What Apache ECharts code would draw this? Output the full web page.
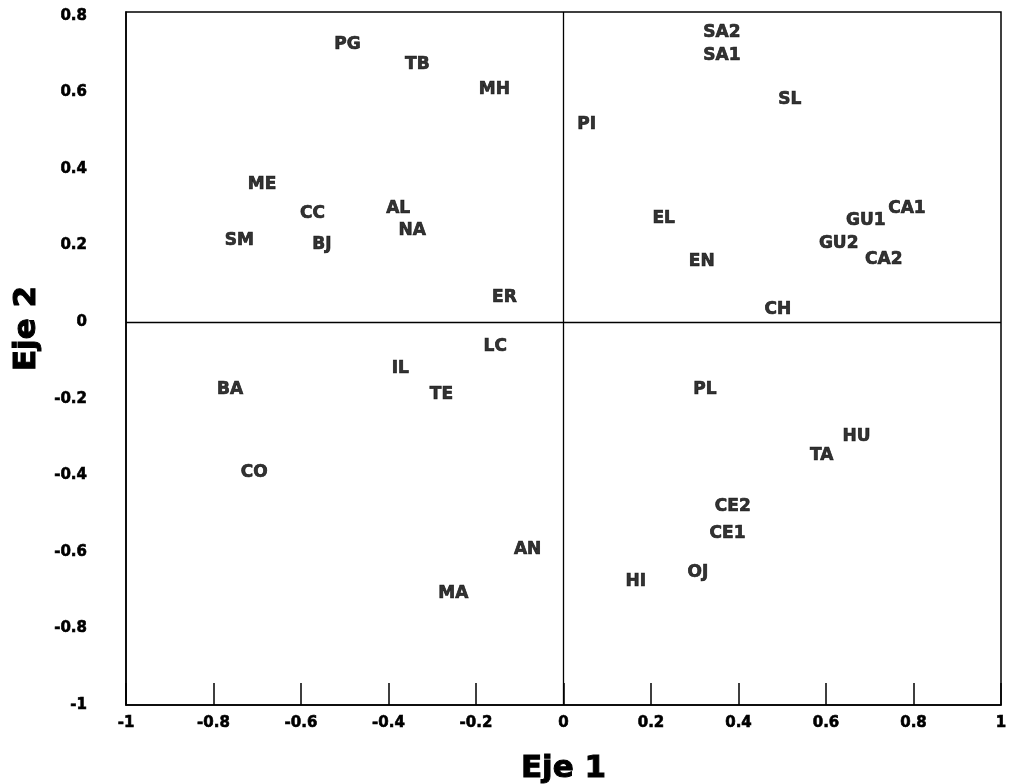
<!DOCTYPE html>
<html>
<head>
<meta charset="utf-8">
<title>Eje 1 / Eje 2</title>
<script src="https://cdn.jsdelivr.net/npm/echarts@6/dist/echarts.min.js"></script>
<style>
  html, body { margin: 0; padding: 0; background: #fff; }
  #chart { width: 1009px; height: 784px; }
</style>
</head>
<body>
<div id="chart"></div>
<script>
// Site codes and their scores on the first two axes
const names = ['PG','TB','MH','ME','CC','SM','BJ','AL','NA','ER',
               'SA2','SA1','SL','PI','EL','EN','CH','GU1','CA1','GU2','CA2',
               'LC','IL','BA','TE','CO','AN','MA',
               'PL','HU','TA','CE2','CE1','OJ','HI'];
const eje1 = [-0.494,-0.334,-0.158,-0.689,-0.574,-0.741,-0.552,-0.378,-0.346,-0.135,
              0.362,0.362,0.517,0.053,0.229,0.316,0.490,0.691,0.785,0.629,0.732,
              -0.156,-0.373,-0.762,-0.279,-0.707,-0.082,-0.252,
              0.323,0.670,0.590,0.387,0.375,0.307,0.165];
const eje2 = [0.724,0.672,0.607,0.359,0.284,0.214,0.203,0.297,0.240,0.063,
              0.755,0.695,0.581,0.516,0.271,0.159,0.034,0.266,0.297,0.206,0.164,
              -0.063,-0.122,-0.177,-0.190,-0.393,-0.594,-0.708,
              -0.177,-0.299,-0.349,-0.482,-0.552,-0.654,-0.677];

// Tick labels for both axes
const xTicks = ['-1','-0.8','-0.6','-0.4','-0.2','0','0.2','0.4','0.6','0.8','1'];
const yTicks = ['-1','-0.8','-0.6','-0.4','-0.2','0','0.2','0.4','0.6','0.8'];

function tickLabel(list, v) {
  const k = Math.round((v + 1) / 0.2);
  if (Math.abs((v + 1) - k * 0.2) > 1e-6) return '';
  return list[k] !== undefined ? list[k] : '';
}

const points = names.map((n, i) => ({ name: n, value: [eje1[i], eje2[i]] }));

const FONT = '"DejaVu Sans", "Liberation Sans", Arial, sans-serif';
// heavy black lettering
const heavy = (size, border) => ({
  fontFamily: FONT, fontWeight: 'bold', fontSize: size, color: '#000',
  textBorderColor: '#000', textBorderWidth: border
});

const chart = echarts.init(document.getElementById('chart'), null, { renderer: 'canvas' });
chart.setOption({
  animation: false,
  backgroundColor: '#ffffff',
  grid: {
    left: 126, right: 8, top: 12, bottom: 79,
    outerBoundsMode: 'none', containLabel: false,
    show: true, borderColor: '#000', borderWidth: 1.5, backgroundColor: 'transparent'
  },
  xAxis: {
    type: 'value', min: -1, max: 1, interval: 0.2,
    name: 'Eje 1', nameLocation: 'middle', nameGap: 48,
    nameTextStyle: heavy(31, 1),
    axisLine: { show: true, onZero: false, lineStyle: { color: '#000', width: 1.5 } },
    axisTick: { show: true, inside: true, length: 22, lineStyle: { color: '#000', width: 1.5 } },
    axisLabel: Object.assign({ margin: 11, formatter: v => tickLabel(xTicks, v) }, heavy(15, 0.6)),
    splitLine: { show: false }
  },
  yAxis: {
    type: 'value', min: -1, max: 0.81, interval: 0.2,
    name: 'Eje 2', nameLocation: 'middle', nameGap: 84, nameRotate: 90,
    nameTextStyle: Object.assign({ padding: [0, 0, 0, 60] }, heavy(31, 1)),
    axisLine: { show: true, onZero: false, lineStyle: { color: '#000', width: 1.5 } },
    axisTick: { show: false },
    axisLabel: Object.assign({ margin: 39, formatter: v => tickLabel(yTicks, v) }, heavy(15, 0.6)),
    splitLine: { show: false }
  },
  series: [{
    type: 'scatter',
    data: points,
    symbolSize: 2,
    itemStyle: { color: 'rgba(255,255,255,0)' },
    label: Object.assign({
      show: true, position: ['50%', '50%'], align: 'center', verticalAlign: 'middle',
      formatter: p => p.name
    }, heavy(17, 0.7)),
    labelLayout: { hideOverlap: false },
    markLine: {
      silent: true, symbol: 'none', animation: false,
      label: { show: false },
      lineStyle: { color: '#000', width: 1.3, type: 'solid' },
      data: [{ xAxis: 0 }, { yAxis: 0 }]
    }
  }]
});
</script>
</body>
</html>
